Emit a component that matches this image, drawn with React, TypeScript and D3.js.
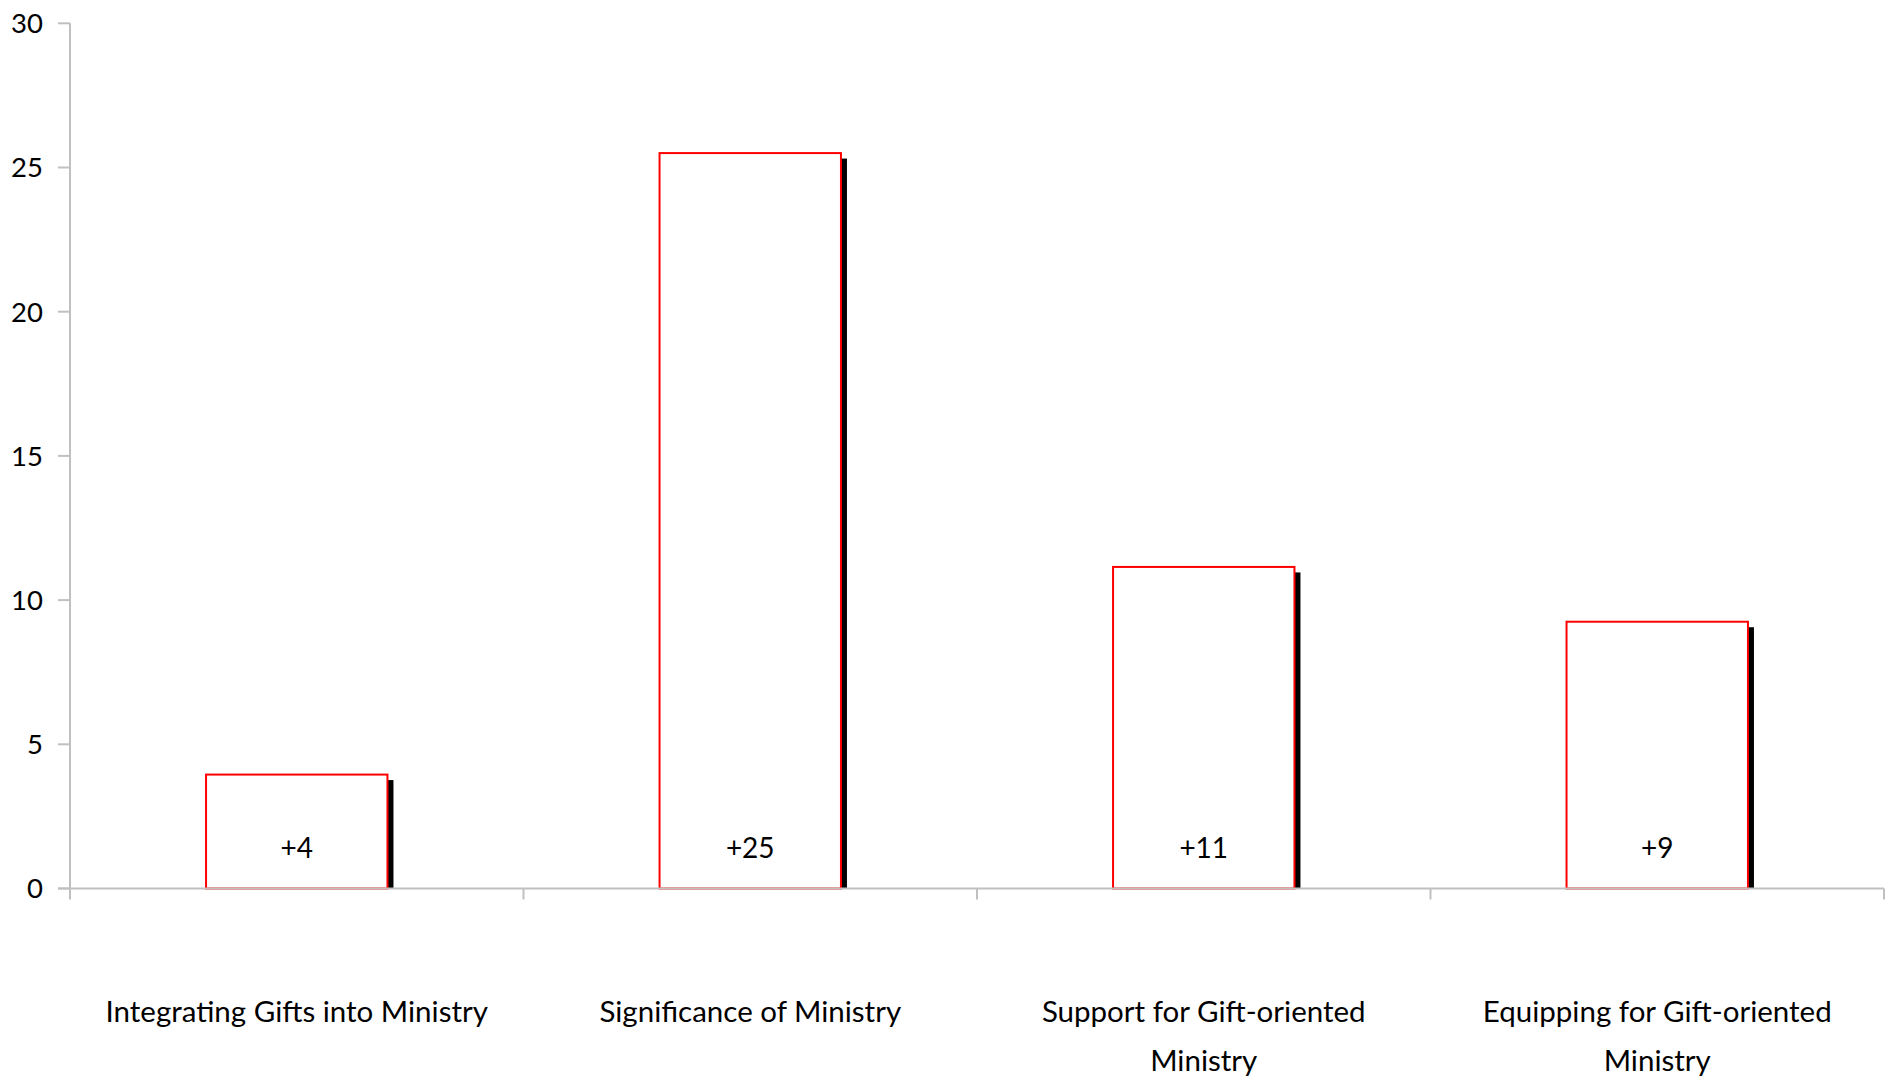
import React, { useEffect } from "react";
import * as d3 from "d3";

const categories = [
  "Integrating Gifts into Ministry",
  "Significance of Ministry",
  "Support for Gift-oriented Ministry",
  "Equipping for Gift-oriented Ministry",
];
const categoryLines = [
  ["Integrating Gifts into Ministry"],
  ["Significance of Ministry"],
  ["Support for Gift-oriented", "Ministry"],
  ["Equipping for Gift-oriented", "Ministry"],
];
const values = [3.95, 25.5, 11.15, 9.25];
const valueLabels = ["+4", "+25", "+11", "+9"];
const yTicks = [0, 5, 10, 15, 20, 25, 30];

const W = 1889;
const H = 1079;
const M = { left: 70, right: 5, top: 23.3, bottom: 190.5 };
const FONT = "Lato, 'Gill Sans', 'Noto Sans', sans-serif";

export default function App() {
  useEffect(() => {
    document.body.style.margin = "0";
  }, []);

  const x = d3
    .scaleBand<string>()
    .domain(categories)
    .range([M.left, W - M.right])
    .paddingInner(0.6)
    .paddingOuter(0.3);
  const band = d3.scaleBand<string>().domain(categories).range([M.left, W - M.right]);
  const y = d3.scaleLinear().domain([0, 30]).range([H - M.bottom, M.top]);
  const y0 = y(0);
  const axisColor = "#c0c0c0";

  return (
    <svg width={W} height={H} style={{ display: "block", background: "#fff" }}>
      {/* shadows */}
      {categories.map((c, i) => (
        <rect
          key={"s" + i}
          x={(x(c) as number) + x.bandwidth()}
          y={y(values[i]) + 5.5}
          width={6}
          height={y0 - y(values[i]) - 5.5}
          fill="#000"
        />
      ))}
      {/* bars */}
      {categories.map((c, i) => (
        <rect
          key={"b" + i}
          x={x(c) as number}
          y={y(values[i])}
          width={x.bandwidth()}
          height={y0 - y(values[i])}
          fill="#fff"
          stroke="#ff0000"
          strokeWidth={2}
        />
      ))}
      {/* axes */}
      <line x1={M.left} x2={M.left} y1={M.top} y2={y0 + 11} stroke={axisColor} strokeWidth={2} />
      <line x1={M.left - 12} x2={W - M.right} y1={y0} y2={y0} stroke={axisColor} strokeWidth={2} />
      {yTicks.map((t) => (
        <g key={"yt" + t}>
          <line x1={M.left - 12} x2={M.left} y1={y(t)} y2={y(t)} stroke={axisColor} strokeWidth={2} />
          <text
            x={M.left - 27}
            y={y(t)}
            dy="0.36em"
            textAnchor="end"
            fontFamily={FONT}
            fontSize={27.5}
            fill="#000"
          >
            {t}
          </text>
        </g>
      ))}
      {categories.map((c, i) => (
        <line
          key={"xt" + i}
          x1={(band(c) as number) + band.bandwidth()}
          x2={(band(c) as number) + band.bandwidth()}
          y1={y0}
          y2={y0 + 11}
          stroke={axisColor}
          strokeWidth={2}
        />
      ))}
      {/* value labels */}
      {categories.map((c, i) => (
        <text
          key={"v" + i}
          x={(x(c) as number) + x.bandwidth() / 2}
          y={858}
          textAnchor="middle"
          fontFamily={FONT}
          fontSize={28}
          fill="#000"
        >
          {valueLabels[i]}
        </text>
      ))}
      {/* category labels */}
      {categories.map((c, i) => (
        <text
          key={"c" + i}
          x={(x(c) as number) + x.bandwidth() / 2}
          textAnchor="middle"
          fontFamily={FONT}
          fontSize={29.5}
          fill="#000"
        >
          {categoryLines[i].map((l, j) => (
            <tspan key={j} x={(x(c) as number) + x.bandwidth() / 2} y={1022 + j * 49}>
              {l}
            </tspan>
          ))}
        </text>
      ))}
    </svg>
  );
}
